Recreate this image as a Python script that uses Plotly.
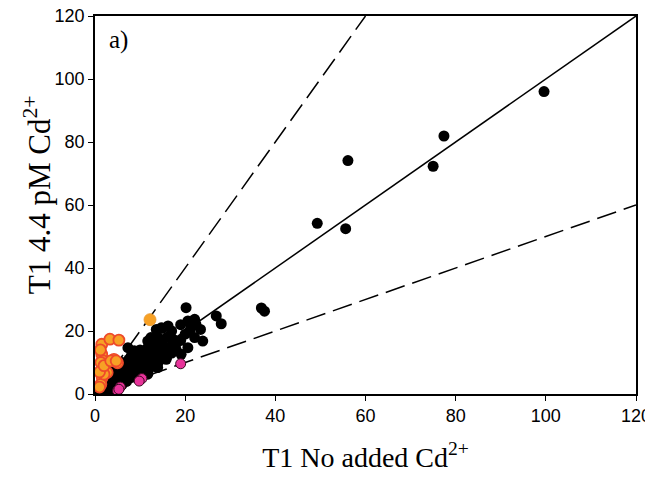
import plotly.graph_objects as go

# Black points (T1 No added Cd, T1 4.4 pM Cd)
black_x = [99.6, 77.4, 75.0, 56.1, 49.3, 55.6, 36.9, 37.6, 20.2, 22.1, 22.4, 26.9, 28.0, 23.4, 23.9, 22.1,
           14.7, 16.2, 15.0, 13.6, 12.4, 17.3, 17.6, 15.8, 11.7, 20.6, 21.3, 20.6, 19.1, 16.9, 15.8, 13.9,
           11.7, 12.4, 8.7, 7.3, 11.7, 8.0, 5.8, 3.6, 0.6, 0.0,
           1, 2, 2.5, 3, 4, 4.5, 5, 6, 6.5, 7, 7.5, 8, 9, 10, 10, 9, 8, 7, 6, 10, 11, 12, 13, 14, 12, 13,
           14, 10, 9, 11, 12, 15, 16, 17, 18, 15, 16, 18, 19, 20, 21, 17, 19, 9, 10, 7, 6, 5, 4, 3, 2, 11,
           13, 14, 4, 5, 6, 7, 8, 9, 3, 8, 9, 11, 13, 14, 6, 5, 4, 3, 2]
black_y = [96.0, 81.9, 72.3, 74.1, 54.2, 52.5, 27.3, 26.3, 27.4, 23.7, 22.1, 24.8, 22.3, 20.5, 16.8, 17.9,
           21.0, 21.6, 20.9, 20.5, 17.4, 17.4, 15.7, 14.7, 14.7, 23.2, 21.6, 14.7, 12.6, 14.7, 11.0, 8.4,
           6.3, 17.9, 13.7, 14.7, 16.8, 5.2, 4.1, 3.1, 1.0, 0.0,
           1.5, 2, 3.5, 4, 5, 6, 7, 8, 9, 10, 11, 12, 11, 12, 10, 9, 8, 7, 6, 8, 9, 10, 11, 12, 13, 14,
           15, 14, 13, 11, 8, 13, 12, 13, 14, 17, 18, 16, 17, 19, 20, 20, 22, 6, 6, 4, 3, 2, 1.5, 1, 0.8, 7,
           9, 10, 3, 4, 5, 6, 7, 8, 2, 10, 10.5, 13, 16, 18, 10, 9, 7, 5.5, 4]

# Orange points with red edge
orange_x = [1.5, 3.3, 5.3, 1.5, 1.8, 4.2, 5.0, 1.6, 2.7, 1.6, 1.3, 2.0, 1.3, 1.0, 1.2, 2.0, 3.5, 4.7, 1.0]
orange_y = [15.8, 17.4, 17.1, 12.6, 10.5, 11.0, 9.9, 8.4, 6.8, 5.2, 3.1, 6.3, 10.0, 7.0, 14.0, 9.0, 10.5, 10.5, 2.2]

# Plain orange point
orange2_x = [12.2]
orange2_y = [23.6]

# Magenta points
magenta_x = [19.0, 10.4, 9.8, 5.6, 5.0, 5.3]
magenta_y = [9.6, 4.9, 4.1, 2.2, 1.0, 1.5]

# Reference lines: 1:1, 2:1, 1:2
line_x = [0, 120]
one_to_one = [0, 120]
two_x = [0, 60]
two_y = [0, 120]
half_y = [0, 60]

tick_vals = [0, 20, 40, 60, 80, 100, 120]

fig = go.Figure()
fig.add_trace(go.Scatter(x=line_x, y=one_to_one, mode="lines",
                         line=dict(color="black", width=1.5), showlegend=False, hoverinfo="skip"))
fig.add_trace(go.Scatter(x=two_x, y=two_y, mode="lines",
                         line=dict(color="black", width=1.5, dash="20px,8px"), showlegend=False, hoverinfo="skip"))
fig.add_trace(go.Scatter(x=line_x, y=half_y, mode="lines",
                         line=dict(color="black", width=1.5, dash="20px,8px"), showlegend=False, hoverinfo="skip"))
fig.add_trace(go.Scatter(x=black_x, y=black_y, mode="markers",
                         marker=dict(color="black", size=11, line=dict(width=0)), showlegend=False))
fig.add_trace(go.Scatter(x=orange_x, y=orange_y, mode="markers",
                         marker=dict(color="#F7A125", size=11, line=dict(width=1.8, color="#EE4A2A")),
                         showlegend=False))
fig.add_trace(go.Scatter(x=orange2_x, y=orange2_y, mode="markers",
                         marker=dict(color="#F7A125", size=12, line=dict(width=0.8, color="#E8962A")),
                         showlegend=False))
fig.add_trace(go.Scatter(x=magenta_x, y=magenta_y, mode="markers",
                         marker=dict(color="#E8339A", size=10, line=dict(width=1, color="#3a0a20")),
                         showlegend=False))

axis_common = dict(
    range=[0, 120], tickvals=tick_vals,
    showgrid=False, zeroline=False, showline=True, linecolor="black", linewidth=1.5,
    mirror=True, ticks="outside", ticklen=5, tickwidth=1, tickcolor="black",
    tickfont=dict(family="Liberation Sans, Arial", size=18, color="black"),
    ticklabeloverflow="allow",
    automargin=False,
)

serif = "Liberation Serif, Times New Roman"

fig.update_layout(
    width=653, height=478,
    margin=dict(l=87, r=25, t=8, b=92),
    paper_bgcolor="white", plot_bgcolor="white",
    xaxis=dict(**axis_common,
               title=dict(text="T1 No added Cd<sup>2+</sup>",
                          font=dict(family=serif, size=28, color="black"), standoff=22)),
    yaxis=dict(**axis_common),
    annotations=[
        dict(text="a)", xref="paper", yref="paper", x=0.022, y=0.936,
             xanchor="left", yanchor="middle", showarrow=False,
             font=dict(family=serif, size=25, color="black")),
        dict(text="T1 4.4 pM Cd<sup>2+</sup>", xref="paper", yref="paper", x=-0.107, y=0.526,
             xanchor="center", yanchor="middle", showarrow=False, textangle=-90,
             font=dict(family=serif, size=31, color="black")),
    ],
    shapes=[
        dict(type="circle", xref="paper", yref="paper", x0=1.025, x1=1.047, y0=0.245, y1=0.273,
             fillcolor="#F7A125", line=dict(width=0)),
        dict(type="circle", xref="paper", yref="paper", x0=1.025, x1=1.047, y0=0.16, y1=0.188,
             fillcolor="#E8339A", line=dict(width=0)),
    ],
)

fig.write_html("out.html")
